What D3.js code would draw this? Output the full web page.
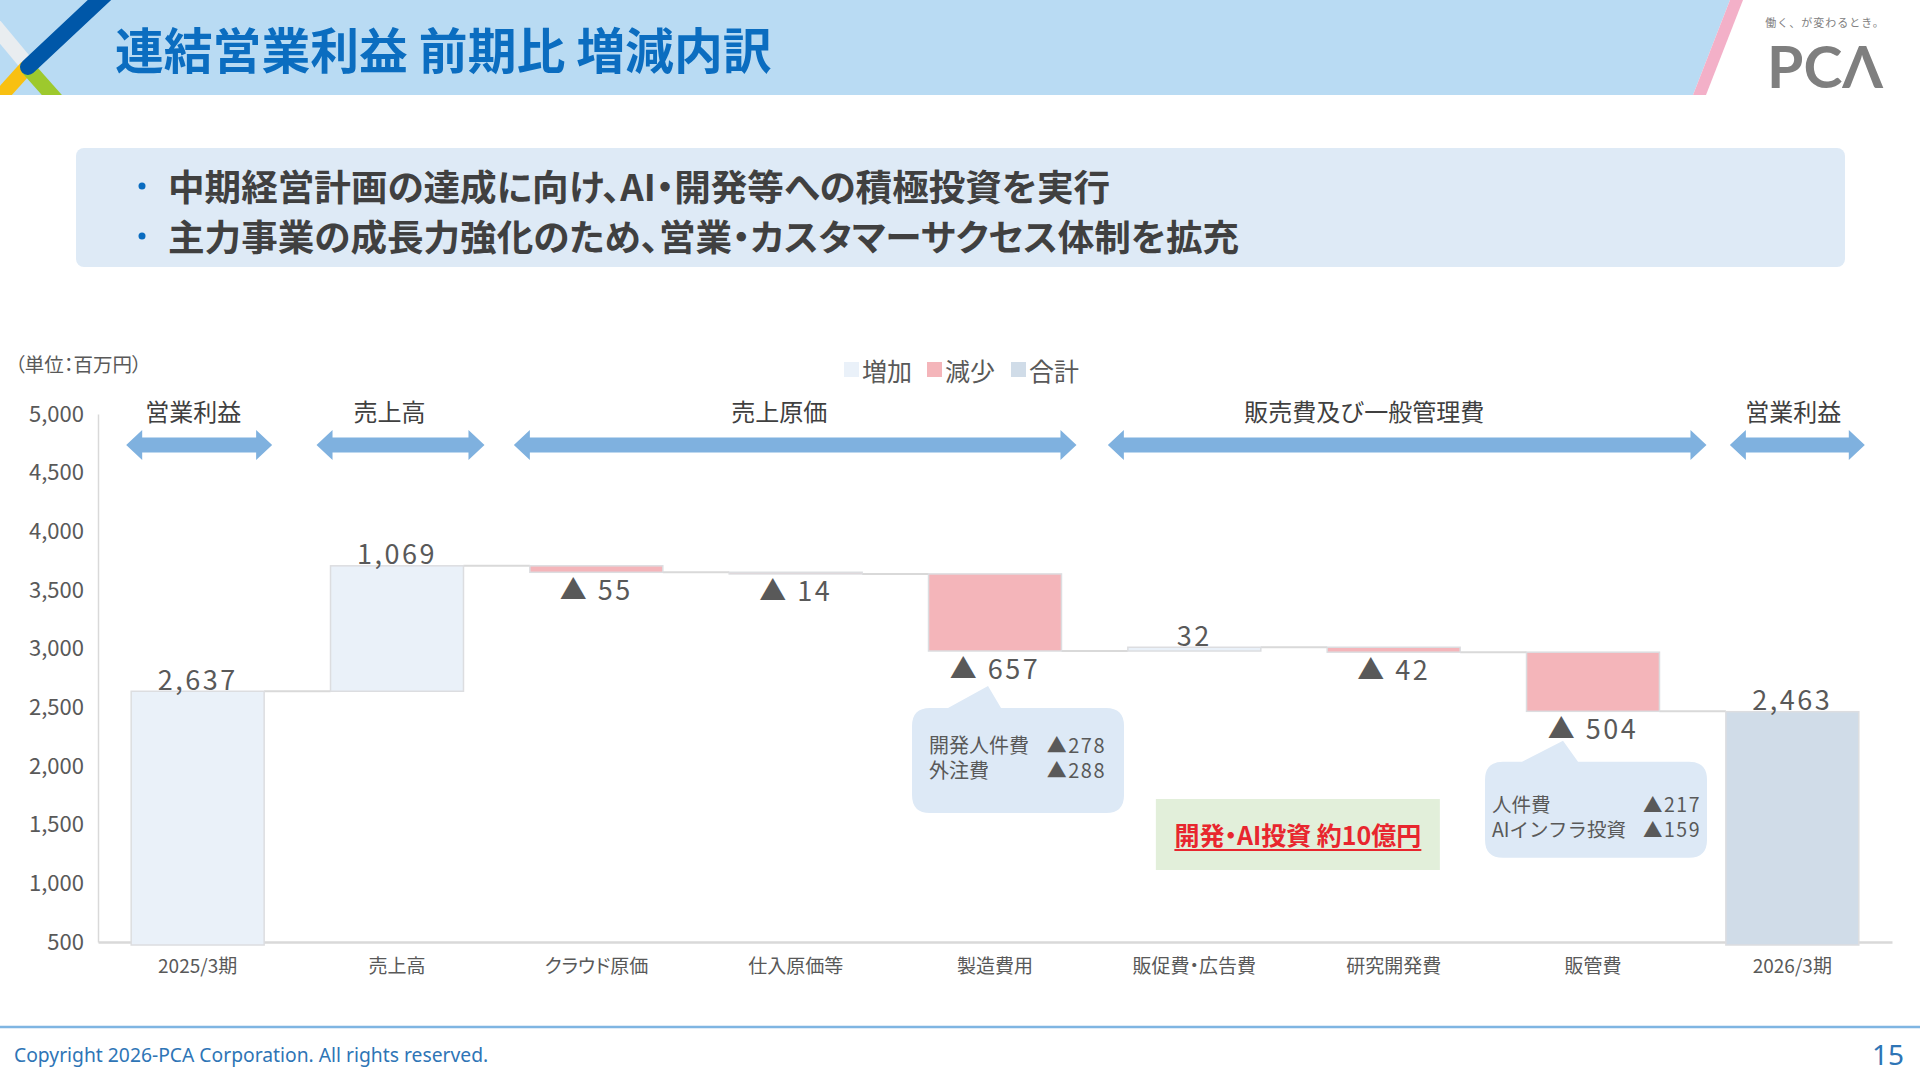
<!DOCTYPE html>
<html lang="ja">
<head>
<meta charset="utf-8">
<script src="https://cdn.jsdelivr.net/npm/d3@7"></script>
<style>
  html, body { margin: 0; padding: 0; background: #ffffff; }
  svg { display: block; }
  text { font-family: 'Noto Sans CJK JP', 'Noto Sans', sans-serif; }
  .palt { font-feature-settings: "palt" 1; }
</style>
</head>
<body>
<svg id="chart" width="1920" height="1080"></svg>
<script>
// ---------- data ----------
const titleText = "連結営業利益 前期比 増減内訳";
const bullets = [
  "中期経営計画の達成に向け、AI・開発等への積極投資を実行",
  "主力事業の成長力強化のため、営業・カスタマーサクセス体制を拡充"
];
const unitLabel = "（単位：百万円）";
const categories = ["2025/3期", "売上高", "クラウド原価", "仕入原価等", "製造費用", "販促費・広告費", "研究開発費", "販管費", "2026/3期"];
const deltas = [2637, 1069, -55, -14, -657, 32, -42, -504, 2463];
const kinds = ["start", "up", "down", "down", "down", "up", "down", "down", "total"];
const yTicks = [500, 1000, 1500, 2000, 2500, 3000, 3500, 4000, 4500, 5000];
const legendLabels = ["増加", "減少", "合計"];
const legendKinds = ["up", "down", "total"];
const groupLabels = ["営業利益", "売上高", "売上原価", "販売費及び一般管理費", "営業利益"];
const groupFrom = [0, 1, 2, 5, 8];
const groupTo = [0, 1, 4, 7, 8];
const callout1Items = ["開発人件費", "外注費"];
const callout1Values = [278, 288];
const callout2Items = ["人件費", "AIインフラ投資"];
const callout2Values = [217, 159];
const noteText = "開発・AI投資 約10億円";
const footerText = "Copyright 2026-PCA Corporation. All rights reserved.";
const pageNumber = "15";

// ---------- layout / style ----------
const colors = { start: "#eaf1f9", up: "#eaf1f9", down: "#f4b5ba", total: "#d0dce8" };
const textDark = "#404040", textGray = "#595959";
const arrowPadL = [5, 14, 16, 20, -4];
const arrowPadR = [8, 21, 15, 47, 6];
const groupLabelDx = [-6, -11, -16, -43, -4];

const svg = d3.select("#chart");
const defs = svg.append("defs");
defs.append("clipPath").attr("id", "hdrclip").append("rect").attr("x", 0).attr("y", 0).attr("width", 1920).attr("height", 95);

// ---------- header ----------
const hdr = svg.append("g").attr("clip-path", "url(#hdrclip)");
hdr.append("polygon").attr("points", "0,0 1730,0 1693,95 0,95").attr("fill", "#b9dbf3");
hdr.append("polygon").attr("points", "1730,0 1743,0 1706,95 1693,95").attr("fill", "#f3b0c8");
hdr.append("line").attr("x1", -10).attr("y1", 20).attr("x2", 30).attr("y2", 68).attr("stroke", "#e9edf0").attr("stroke-width", 15);
hdr.append("line").attr("x1", 27).attr("y1", 67).attr("x2", -10).attr("y2", 108).attr("stroke", "#f8c012").attr("stroke-width", 15);
hdr.append("line").attr("x1", 27).attr("y1", 67).attr("x2", 67).attr("y2", 112).attr("stroke", "#9dc92d").attr("stroke-width", 15);
hdr.append("line").attr("x1", 108).attr("y1", -8).attr("x2", 28).attr("y2", 67).attr("stroke", "#0057a8").attr("stroke-width", 16).attr("stroke-linecap", "round");

svg.append("text").attr("x", 115).attr("y", 47).attr("dominant-baseline", "central")
  .attr("font-size", 48.8).attr("font-weight", 700).attr("fill", "#0b6dc0").text(titleText);

// logo
svg.append("text").attr("x", 1825).attr("y", 22).attr("text-anchor", "middle").attr("dominant-baseline", "central")
  .attr("font-size", 11).attr("letter-spacing", 1).attr("fill", "#808080").text("働く、が変わるとき。");
svg.append("text").attr("x", 1767).attr("y", 88).attr("font-size", 58).attr("font-weight", 700)
  .attr("textLength", 116).attr("lengthAdjust", "spacingAndGlyphs")
  .style("font-family", "Lato, 'DejaVu Sans', sans-serif").attr("fill", "#7f7f7f").text("PCΛ");

// ---------- bullet box ----------
svg.append("rect").attr("x", 76).attr("y", 148).attr("width", 1769).attr("height", 119).attr("rx", 8).attr("fill", "#deeaf6");
bullets.forEach((b, i) => {
  const cy = 185 + i * 50;
  svg.append("circle").attr("cx", 142).attr("cy", cy + 1).attr("r", 3.5).attr("fill", "#0a6cc0");
  svg.append("text").attr("class", "palt").attr("x", 168).attr("y", cy).attr("dominant-baseline", "central")
    .attr("font-size", 36.6).attr("font-weight", 700).attr("fill", textDark).text(b);
});

// ---------- chart scales ----------
const x = d3.scaleBand().domain(categories).range([98, 1892]).paddingInner(0.333).paddingOuter(0.1665);
const y = d3.scaleLinear().domain([500, 5000]).range([942, 414]);
const bw = x.bandwidth();

// running totals
let run = 0;
const bars = categories.map((c, i) => {
  const d = deltas[i], k = kinds[i];
  let lo, hi;
  if (k === "total" || k === "start") { lo = y.domain()[0]; hi = d; run = d; }
  else if (k === "up") { lo = run; hi = run + d; run += d; }
  else { hi = run; lo = run + d; run += d; }
  return { c, d, k, lo, hi, end: run };
});

// unit
svg.append("text").attr("class", "palt").attr("x", 15).attr("y", 363).attr("dominant-baseline", "central")
  .attr("font-size", 19.5).attr("fill", textGray).text(unitLabel);

// legend
const legX = [844, 927, 1011];
legendLabels.forEach((l, i) => {
  svg.append("rect").attr("x", legX[i]).attr("y", 362).attr("width", 15).attr("height", 15)
    .attr("fill", colors[legendKinds[i]]);
  svg.append("text").attr("x", legX[i] + 18).attr("y", 370).attr("dominant-baseline", "central")
    .attr("font-size", 25).attr("fill", textGray).text(l);
});

// axes
const yAxis = d3.axisLeft(y).tickValues(yTicks).tickSize(0).tickPadding(14).tickFormat(d3.format(","));
const gy = svg.append("g").attr("transform", "translate(98,0)").call(yAxis);
gy.select(".domain").attr("stroke", "#d9d9d9").attr("stroke-width", 1.5);
gy.selectAll("text").attr("font-size", 22).attr("fill", textGray)
  .style("font-family", "'Noto Sans CJK JP', sans-serif");

const xAxis = d3.axisBottom(x).tickSize(0).tickPadding(18);
const gx = svg.append("g").attr("transform", "translate(0,942)").call(xAxis);
gx.select(".domain").attr("stroke", "#d9d9d9").attr("stroke-width", 2.5);
gx.selectAll("text").attr("class", "palt").attr("font-size", 19).attr("fill", textGray)
  .style("font-family", "'Noto Sans CJK JP', sans-serif");

// connectors
bars.slice(0, -1).forEach((b, i) => {
  svg.append("line").attr("x1", x(b.c) + bw).attr("x2", x(categories[i + 1]))
    .attr("y1", y(b.end)).attr("y2", y(b.end)).attr("stroke", "#d9d9d9").attr("stroke-width", 2);
});

// bars
svg.append("g").selectAll("rect").data(bars).join("rect")
  .attr("x", d => x(d.c)).attr("width", bw)
  .attr("y", d => y(d.hi)).attr("height", d => Math.max(1, y(d.lo) - y(d.hi) + (d.k === "total" || d.k === "start" ? 3 : 0)))
  .attr("fill", d => colors[d.k]).attr("stroke", "#dcdde0").attr("stroke-width", 1.5);

// value labels
const fmt = d3.format(",");
svg.append("g").selectAll("text").data(bars).join("text")
  .attr("x", d => x(d.c) + bw / 2)
  .attr("y", d => d.k === "down" ? y(d.lo) + 16 : y(d.hi) - 13)
  .attr("text-anchor", "middle").attr("dominant-baseline", "central")
  .attr("font-size", 27).attr("letter-spacing", 2.5).attr("fill", textGray)
  .text(d => d.k === "down" ? "▲ " + Math.abs(d.d) : fmt(d.d));

// group labels + double arrows
function dblArrow(x0, x1, cy) {
  const hl = 16, hh = 15, sh = 7.5;
  return `M${x0},${cy} L${x0 + hl},${cy - hh} L${x0 + hl},${cy - sh} L${x1 - hl},${cy - sh} L${x1 - hl},${cy - hh} L${x1},${cy} L${x1 - hl},${cy + hh} L${x1 - hl},${cy + sh} L${x0 + hl},${cy + sh} L${x0 + hl},${cy + hh} Z`;
}
groupLabels.forEach((g, i) => {
  const x0 = x(categories[groupFrom[i]]) - arrowPadL[i];
  const x1 = x(categories[groupTo[i]]) + bw + arrowPadR[i];
  svg.append("path").attr("d", dblArrow(x0, x1, 445)).attr("fill", "#7fb1df");
  svg.append("text").attr("x", (x0 + x1) / 2 + groupLabelDx[i]).attr("y", 410)
    .attr("text-anchor", "middle").attr("dominant-baseline", "central")
    .attr("font-size", 24).attr("fill", textDark).text(g);
});

// callouts
function calloutPath(bx, by, w, h, r, p1, p2, ax, ay) {
  return `M${bx + r},${by} L${p1},${by} L${ax},${ay} L${p2},${by} L${bx + w - r},${by} Q${bx + w},${by} ${bx + w},${by + r}` +
    ` L${bx + w},${by + h - r} Q${bx + w},${by + h} ${bx + w - r},${by + h} L${bx + r},${by + h} Q${bx},${by + h} ${bx},${by + h - r}` +
    ` L${bx},${by + r} Q${bx},${by} ${bx + r},${by} Z`;
}
function callout(idx, dx, dy, w, h, p1, p2, ax, ay, items, vals, padL, padR, lineY, fs) {
  const b = bars[idx];
  const bx = x(b.c) + dx, by = y(b.lo) + dy;
  svg.append("path").attr("d", calloutPath(bx, by, w, h, 18, bx + p1, bx + p2, bx + ax, by + ay)).attr("fill", "#dde9f6");
  const left = svg.append("text").attr("font-size", fs).attr("fill", textGray).attr("dominant-baseline", "central");
  const right = svg.append("text").attr("font-size", fs).attr("fill", textGray).attr("dominant-baseline", "central")
    .attr("text-anchor", "end").attr("letter-spacing", 1.5);
  items.forEach((t, i) => {
    left.append("tspan").attr("x", bx + padL).attr("y", by + lineY + i * 25).text(t);
    right.append("tspan").attr("x", bx + w - padR).attr("y", by + lineY + i * 25).text("▲" + vals[i]);
  });
}
callout(4, -16.5, 57, 212, 105, 36, 89, 76, -22, callout1Items, callout1Values, 17, 18, 36, 20);
callout(7, -41.5, 50.5, 222, 96, 37, 93, 78, -21, callout2Items, callout2Values, 7, 6, 41, 19.5);

// note box
const nx = x(categories[5]) + 28;
svg.append("rect").attr("x", nx).attr("y", 799).attr("width", 284).attr("height", 71).attr("fill", "#e2efda");
const note = svg.append("text").attr("class", "palt").attr("x", nx + 142).attr("y", 845).attr("text-anchor", "middle")
  .attr("font-size", 25).attr("font-weight", 700).attr("fill", "#e8262e").text(noteText);
const nl = note.node().getComputedTextLength();
svg.append("line").attr("x1", nx + 142 - nl / 2).attr("x2", nx + 142 + nl / 2).attr("y1", 850).attr("y2", 850)
  .attr("stroke", "#e8262e").attr("stroke-width", 1.8);

// ---------- footer ----------
svg.append("line").attr("x1", 0).attr("x2", 1920).attr("y1", 1027).attr("y2", 1027).attr("stroke", "#7fb5e2").attr("stroke-width", 2.5);
svg.append("text").attr("x", 14).attr("y", 1054).attr("dominant-baseline", "central")
  .attr("font-size", 19.3).attr("fill", "#2e75b6").style("font-family", "'Noto Sans', sans-serif").text(footerText);
svg.append("text").attr("x", 1904).attr("y", 1054).attr("text-anchor", "end").attr("dominant-baseline", "central")
  .attr("font-size", 28).attr("fill", "#2e75b6").style("font-family", "'Noto Sans', sans-serif").text(pageNumber);
</script>
</body>
</html>
